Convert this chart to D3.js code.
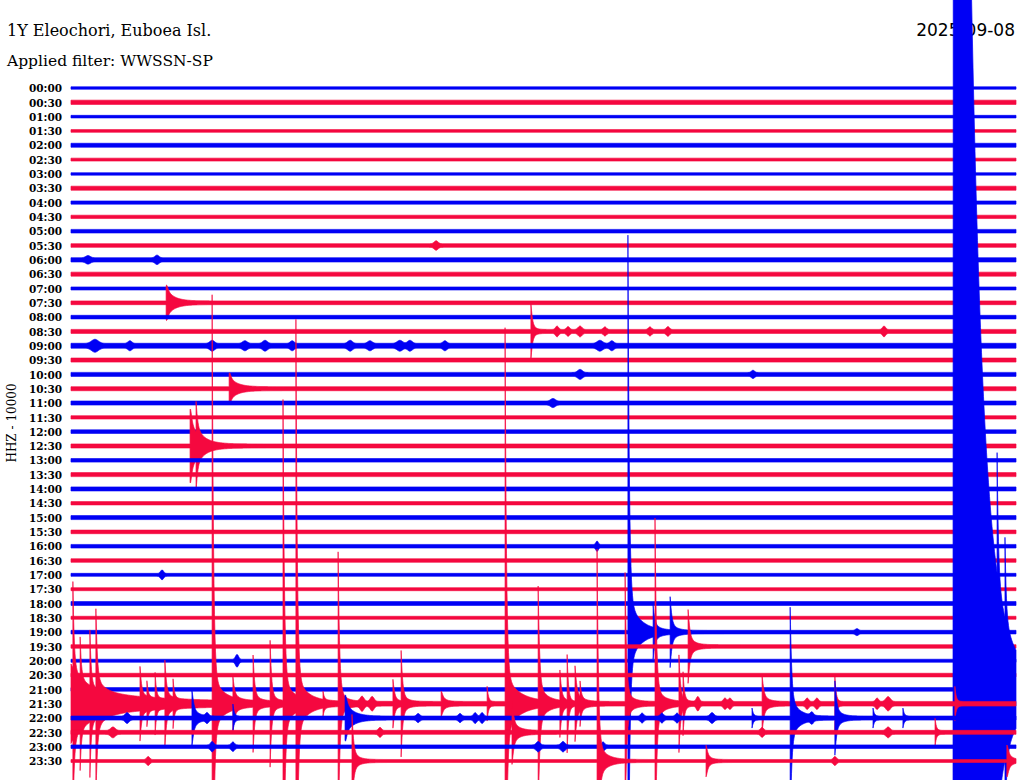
<!DOCTYPE html>
<html><head><meta charset="utf-8">
<script src="https://cdn.jsdelivr.net/npm/d3@7"></script>
<style>body{margin:0;background:#fff}svg{display:block;background:#fff}</style>
</head><body>
<svg id="chart" width="1024" height="780"></svg>
<script>
// ---- Data ----
const stationTitle = "1Y Eleochori, Euboea Isl.";
const filterLabel = "Applied filter: WWSSN-SP";
const dateLabel = "2025-09-08";
const channelLabel = "HHZ - 10000";

const rowLabels = ["00:00","00:30","01:00","01:30","02:00","02:30","03:00","03:30","04:00","04:30",
  "05:00","05:30","06:00","06:30","07:00","07:30","08:00","08:30","09:00","09:30",
  "10:00","10:30","11:00","11:30","12:00","12:30","13:00","13:30","14:00","14:30",
  "15:00","15:30","16:00","16:30","17:00","17:30","18:00","18:30","19:00","19:30",
  "20:00","20:30","21:00","21:30","22:00","22:30","23:00","23:30"];

// background noise amplitude per trace (kcounts)
const noiseLevel = [0.85,1.5,0.9,0.95,1.4,1.0,0.85,1.4,1.1,1.15,
  1.25,1.3,1.5,1.4,1.05,1.3,1.25,1.4,1.7,1.4,
  1.4,1.4,1.4,1.15,1.25,1.4,1.25,1.4,1.4,1.15,
  1.4,1.25,1.25,1.25,1.05,1.05,1.4,1.05,1.25,1.25,
  1.05,1.25,1.25,1.6,1.4,1.4,1.25,1.05];

// earthquakes: [onset (minutes of day), spike peak (kcounts), coda amplitude (kcounts), coda decay (s)]
const quakes = [
  [453.02,10,8.4,15],
  [524.60,18,4,6],
  [635.02,9,7,15],
  [753.78,24,15,20],[753.97,21,5,10],
  [1157.68,276,24.5,20],[1158.48,15.4,4,8],[1159.02,23,5.6,10],
  [1189.59,24.5,7,10],
  [1288.00,0,1890,25],[1288.00,0,30,115],[1289.40,84,0,1],[1289.65,56,0,1],
  [1290.06,60,0,1],[1290.29,28,0,1],[1290.60,38.5,0,1],[1290.79,55,8,15],[1292.19,21,4,8],[1292.41,10.5,0,1],
  [1292.67,17.5,0,1],[1292.98,26.6,5.6,10],[1293.24,12.6,0,1],[1294.48,283,17.5,20],[1295.14,14,3.5,8],
  [1295.78,31.5,5.6,10],[1296.32,42,5.6,10],[1296.73,210,15.4,20],[1297.14,262,14,20],[1298.00,5.6,0,1],
  [1298.48,104,8.4,12],[1300.22,15.4,3.5,8],[1300.48,35,5.6,10],
  [1301.75,7,4,8],[1303.21,10.5,0,1],[1303.78,261,19.6,25],[1304.83,79,10.5,15],[1305.52,21,4,8],
  [1305.75,31.5,0,1],[1306.00,24.5,7,12],[1306.16,10.5,0,1],[1307.59,90,8.4,12],[1308.54,128,10.5,15],
  [1309.30,32,4,8],[1309.43,17.5,0,1],[1311.94,17.5,5.6,10],[1314.25,17.5,0,1],[1318.06,10.5,0,1],
  [1323.84,17.5,7,10],[1325.14,8.4,0,1],[1328.70,14,10,15],
  [1341.62,5.6,0,1],[1342.83,76,14,15],[1344.25,24.5,7,10],[1345.46,5.6,0,1],[1346.41,5.6,0,1],
  [1364.00,21,7,12],[1377.43,8.4,0,1],
  [1418.92,31.5,7,10],[1426.70,147,12.6,15],[1430.16,10,4,8],[1439.71,10,5.6,8]
];

// small emergent bursts: [centre (minutes of day), amplitude (kcounts), half-width (s)]
const bursts = [
  [341.59,2,5],
  [360.54,1.5,6],[362.73,1.8,5],
  [525.43,2.4,4],[525.78,2,4],[526.16,2.4,5],[526.95,1.8,4],[528.38,1.8,4],[528.95,2,4],[535.81,2.4,4],
  [540.76,2.8,9],[541.87,1.8,5],[544.48,2.1,6],[545.52,1.8,6],[546.16,2.1,6],[547.02,1.8,5],[548.86,2.1,6],
  [549.49,1.8,6],[550.44,2.1,7],[550.76,2.1,6],[551.87,1.8,5],[556.79,2.1,7],[557.17,1.8,5],
  [616.16,2.1,6],[621.65,1.5,4],
  [675.30,1.8,6],
  [976.70,2.4,3],
  [1022.89,2.4,4],
  [1164.95,1.2,4],
  [1205.27,3.4,4],
  [1299.24,3.4,5],[1299.56,3.4,5],[1309.90,3.4,4],[1310.76,2.4,4],[1310.92,2.4,4],
  [1313.37,2.4,4],[1313.68,2.4,4],[1315.59,2.4,4],[1315.94,3.4,6],
  [1321.78,2.4,5],[1324.32,2.1,4],[1331.02,1.8,4],[1332.35,1.8,4],[1332.83,2.4,4],[1333.05,2.4,4],[1338.13,2.1,4],
  [1338.76,2.1,4],[1339.24,2.1,4],[1340.35,2.4,5],[1343.52,2.1,4],
  [1351.33,2.4,6],[1359.81,2.1,4],[1371.94,2.1,4],[1375.94,2.4,5],
  [1384.48,2.4,4],[1385.14,2.1,4],[1394.83,2.4,5],[1395.62,2.4,5],[1396.89,2.1,4],
  [1412.45,2.1,4],[1434.25,2.1,4]
];

const traceColors = ["#0000f5", "#f5083f"];
const SPIKE_TAU = 2.5; // seconds
const CODA_RISE = 1.2; // seconds

// ---- Drawing ----
const svg = d3.select("#chart");
svg.append("rect").attr("width",1024).attr("height",780).attr("fill","#fff");

const x = d3.scaleLinear().domain([0, 30]).range([71, 1016]);
const y = d3.scalePoint().domain(rowLabels).range([88, 761]);
const amp = d3.scaleLinear().domain([0, 10]).range([0, y.step()]);

svg.append("text").attr("x",7).attr("y",36).attr("font-family","DejaVu Serif")
  .attr("font-size",16).attr("fill","#000").text(stationTitle);
svg.append("text").attr("x",7).attr("y",66).attr("font-family","DejaVu Serif")
  .attr("font-size",15.5).attr("fill","#000").text(filterLabel);
svg.append("text").attr("x",1015).attr("y",36).attr("text-anchor","end").attr("font-family","DejaVu Sans")
  .attr("font-size",17).attr("fill","#000").text(dateLabel);
svg.append("text").attr("transform","translate(16,423) rotate(-90)").attr("text-anchor","middle")
  .attr("font-family","DejaVu Serif").attr("font-size",12).attr("fill","#000").text(channelLabel);

const yAxis = d3.axisLeft(y).tickSize(0).tickPadding(0);
const gAxis = svg.append("g").attr("transform","translate(62,0)").call(yAxis);
gAxis.select(".domain").remove();
gAxis.selectAll("text").attr("font-family","DejaVu Serif").attr("font-size",10.5)
  .attr("font-weight","bold").attr("fill","#000").attr("dy","0.35em").attr("text-anchor","end");

const nSamples = 1890;
const area = d3.area().x(d => x(d.m)).y0(d => d.base + amp(d.e)).y1(d => d.base - amp(d.e));

rowLabels.forEach((lab, i) => {
  const t0 = i * 30, base = y(lab);
  const qs = quakes.filter(q => q[0] <= t0 + 30 && (t0 - q[0]) * 60 < 12 * Math.max(q[3], SPIKE_TAU));
  const bs = bursts.filter(b => Math.abs(b[0] - (t0 + 15)) * 60 < 15 * 60 + 4 * b[2]);
  const ms = d3.range(nSamples + 1).map(k => 30 * k / nSamples);
  qs.forEach(q => { const m = q[0] - t0; if (m > 0 && m < 30) { ms.push(m - 0.0001, m); } });
  ms.sort((a, b) => a - b);
  const pts = ms.map(m => {
    const T = t0 + m;
    let e = noiseLevel[i];
    for (const q of qs) {
      if (q[0] <= T) {
        const dt = (T - q[0]) * 60;
        e += q[1] * Math.exp(-dt / SPIKE_TAU) + q[2] * (1 - Math.exp(-dt / CODA_RISE)) * Math.exp(-dt / q[3]);
      }
    }
    for (const b of bs) {
      const dt = (T - b[0]) * 60 / b[2];
      e += b[1] * Math.exp(-dt * dt);
    }
    return {m, e, base};
  });
  const col = traceColors[i % 2];
  svg.append("path").datum(pts).attr("d", area).attr("fill", col).attr("stroke", col).attr("stroke-width", 0.7);
});
</script>
</body></html>
